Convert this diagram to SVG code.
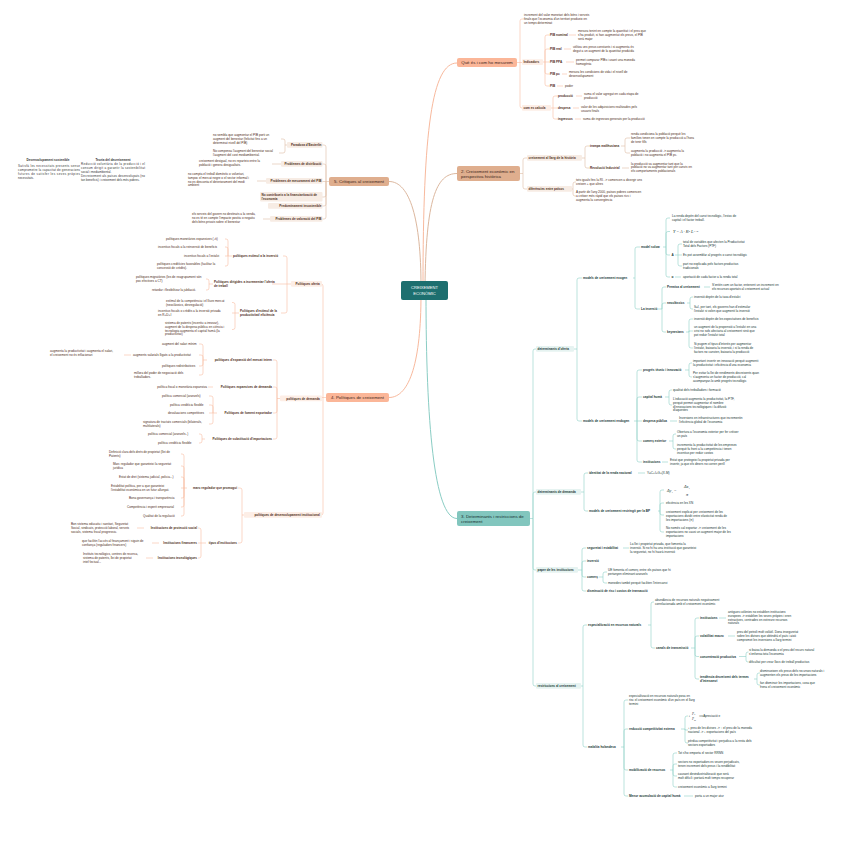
<svg xmlns="http://www.w3.org/2000/svg" width="848" height="842" viewBox="0 0 848 842">
<style>
text{font-family:"Liberation Sans",Arial,sans-serif;}
.s{font-size:3.1px;fill:#4d2c20;}
.l{font-size:3.1px;font-weight:bold;fill:#4d2c20;}
.ts{font-size:3.1px;fill:#213836;}
.tl{font-size:3.1px;font-weight:bold;fill:#213836;}
.e{text-anchor:end;}
.m{text-anchor:middle;}
.top{font-size:4.4px;fill:#3a2418;}
.cw{fill:none;stroke:#f8bda3;stroke-width:0.6;}
.ct{fill:none;stroke:#ddbca5;stroke-width:0.6;}
.cq{fill:none;stroke:#8fd0c7;stroke-width:0.6;}
.mw{fill:none;stroke:#f8b99d;stroke-width:1;}
.mt{fill:none;stroke:#dcb79e;stroke-width:1;}
.mq{fill:none;stroke:#8acdc4;stroke-width:1;}
.pw{fill:#fdeee6;}
.pt{fill:#f7ece4;}
.pq{fill:#e6f3f1;}
.math{font-family:"Liberation Serif",serif;font-style:italic;fill:#213836;}
.note{font-size:3px;fill:#333;}
.nb{font-size:3.1px;font-weight:bold;fill:#333;}
</style>
<rect width="848" height="842" fill="#ffffff"/>

<g id="connectors">
<!-- central curves -->
<path class="mw" d="M423 286 C423 130 432 63 457 63"/>
<path class="mt" d="M425 286 C426 200 436 173.5 457 173.5"/>
<path class="mq" d="M426 295 C426 420 434 518.5 457 518.5"/>
<path class="mw" d="M421 295 C421 360 410 397.5 389 397.5"/>
<path class="mt" d="M421 286 C421 220 410 181.5 389 181.5"/>

<!-- branch 1 -->
<path class="cw" d="M517 62.5 H523 M520 62.5 V21 Q520 19 522 19 H524 M520 62.5 V106 Q520 108 522 108 H523"/>
<path class="cw" d="M543 62 H550 M545 62 V37 Q545 35 547 35 H550 M545 62 V51 Q545 49 547 49 H550 M545 62 V72 Q545 74 547 74 H550 M545 62 V84 Q545 86 547 86 H550"/>
<path class="cw" d="M569 35 H576 M564 49 H571 M566 62 H574 M562 74 H567 M557 86 H563"/>
<path class="cw" d="M550 108 H553 M553 108 V98 Q553 96 555 96 H558 M553 108 H558 M553 108 V117 Q553 119 555 119 H558"/>
<path class="cw" d="M576 96 H582 M573 108 H579 M575 119 H581"/>

<!-- branch 2 -->
<path class="ct" d="M520 173.5 H523 M523 173.5 V160 Q523 158 525 158 H528 M523 173.5 V187 Q523 189 525 189 H528"/>
<path class="ct" d="M581 158 H585 M585 158 V148 Q585 146 587 146 H590 M585 158 V166 Q585 168 587 168 H590"/>
<path class="ct" d="M621 146 H625 M625 146 V140 Q625 138 627 138 H630 M625 146 V151 Q625 153 627 153 H630 M622 168 H629"/>
<path class="ct" d="M571 189 H573 M573 189 V184 Q573 182 575 182 H576 M573 189 V194 Q573 196 575 196 H576"/>

<!-- branch 5 -->
<path class="ct" d="M329 181.5 H322 M326 181.5 V147 Q326 145 324 145 H322 M326 181.5 V166 Q326 164 324 164 H322 M326 181.5 V195 Q326 197 324 197 H322 M326 181.5 V204 Q326 206 324 206 H322 M326 181.5 V217 Q326 219 324 219 H322"/>
<path class="ct" d="M287 145 H285 M285 145 V141 Q285 139 283 139 H281 M285 145 V151 Q285 153 283 153 H279"/>
<path class="ct" d="M281 164 H272 M266 181 H257 M270 219 H263"/>

<!-- branch 4 -->
<path class="cw" d="M326 397.5 H320 M323 397.5 V286 Q323 284 321 284 H320 M323 397.5 V513 Q323 515 321 515 H320"/>
<path class="cw" d="M291 284 H287 M287 284 V258 Q287 256 285 256 H283 M287 284 H272 M287 284 V311 Q287 313 285 313 H281"/>
<path class="cw" d="M232 256 H228 M228 256 V241 Q228 239 226 239 H225 M228 256 V249 Q228 247 226 247 H225 M228 256 H225 M228 256 V264 Q228 266 226 266 H225"/>
<path class="cw" d="M213 284 H209 M209 284 V281 Q209 279 207 279 H206 M209 284 V288 Q209 290 207 290 H206"/>
<path class="cw" d="M239 313 H235 M235 313 V304.5 Q235 302.5 233 302.5 H232 M235 313 H232 M235 313 V327.5 Q235 329.5 233 329.5 H232"/>
<path class="cw" d="M280 398.5 H277 M277 398.5 V362 Q277 360 275 360 H273 M277 398.5 V389 Q277 387 275 387 H273 M277 398.5 V411 Q277 413 275 413 H273 M277 398.5 V437 Q277 439 275 439 H273"/>
<path class="cw" d="M207 360 H203 M203 360 V346 Q203 344 201 344 H199 M203 360 V357 Q203 355 201 355 H199 M203 360 V364 Q203 366 201 366 H199 M203 360 V373 Q203 375 201 375 H199 M124 355 H131"/>
<path class="cw" d="M213 387 H208"/>
<path class="cw" d="M217 413 H213 M213 413 V398 Q213 396 211 396 H209 M213 413 V407 Q213 405 211 405 H209 M213 413 H209 M213 413 V422 Q213 424 211 424 H209"/>
<path class="cw" d="M205 439 H202 M202 439 V436 Q202 434 200 434 H199 M202 439 V441 Q202 443 200 443 H199"/>
<path class="cw" d="M244 515 H242 M242 515 V490 Q242 488 240 488 H238 M242 515 V541 Q242 543 240 543 H238"/>
<path class="cw" d="M187 488 H184 M184 488 V456 Q184 454 182 454 H181 M184 488 V468 Q184 466 182 466 H181 M184 488 V479 Q184 477 182 477 H181 M184 488 H181 M184 488 V496 Q184 498 182 498 H181 M184 488 V505 Q184 507 182 507 H181 M184 488 V514 Q184 516 182 516 H181"/>
<path class="cw" d="M206 543 H201 M201 543 V530 Q201 528 199 528 H198 M201 543 H198 M201 543 V556 Q201 558 199 558 H198"/>
<path class="cw" d="M137 528 H144 M152 543 H159 M146 558 H153"/>

<!-- branch 3 -->
<path class="cq" d="M530 518.5 H533 M533 518.5 V351 Q533 349 535 349 H537 M533 518.5 V494 Q533 492 535 492 H537 M533 518.5 V568 Q533 570 535 570 H537 M533 518.5 V684 Q533 686 535 686 H537"/>
<path class="cq" d="M574 349 H577 M577 349 V280 Q577 278 579 278 H582 M577 349 V419 Q577 421 579 421 H582"/>
<path class="cq" d="M633 278 H635 M635 278 V249 Q635 247 637 247 H640 M635 278 V307 Q635 309 637 309 H640"/>
<path class="cq" d="M663 247 H666 M666 247 V220 Q666 218 668 218 H670 M666 247 V233.5 Q666 231.5 668 231.5 H670 M666 247 V253 Q666 255 668 255 H670 M666 247 V275 Q666 277 668 277 H670"/>
<path class="cq" d="M675 255 H678 M678 255 V246 Q678 244 680 244 H682 M678 255 H682 M678 255 V264 Q678 266 680 266 H682 M675 277 H681"/>
<path class="cq" d="M658 309 H662 M662 309 V289 Q662 287 664 287 H666 M662 309 V305 Q662 303 664 303 H666 M662 309 V330 Q662 332 664 332 H666"/>
<path class="cq" d="M704 287 H710 M687 303 H690 M690 303 V299 Q690 297 692 297 H693 M690 303 V307 Q690 309 692 309 H693"/>
<path class="cq" d="M686 332 H689 M689 332 V321 Q689 319 691 319 H693 M689 332 V331 H693 M689 332 V346 Q689 348 691 348 H693"/>
<path class="cq" d="M634 421 H637 M637 421 V372 Q637 370 639 370 H642 M637 421 V399 Q637 397 639 397 H642 M637 421 H642 M637 421 V439 Q637 441 639 441 H642 M637 421 V460 Q637 462 639 462 H642"/>
<path class="cq" d="M685 370 H689 M689 370 V365 Q689 363 691 363 H692 M689 370 V375 Q689 377 691 377 H692"/>
<path class="cq" d="M665 397 H669 M669 397 V392 Q669 390 671 390 H672 M669 397 V403 Q669 405 671 405 H672 M670 421 H677"/>
<path class="cq" d="M669 441 H673 M673 441 V436 Q673 434 675 434 H676 M673 441 V447 Q673 449 675 449 H676 M662 462 H668"/>
<path class="cq" d="M581 492 H584 M584 492 V475 Q584 473 586 473 H588 M584 492 V509 Q584 511 586 511 H588 M638 473 H645"/>
<path class="cq" d="M658 511 H660 M660 511 V492 Q660 490 662 490 H664 M660 511 V505 Q660 503 662 503 H664 M660 511 V513 Q660 515 662 515 H664 M660 511 V530 Q660 532 662 532 H664"/>
<path class="cq" d="M578 570 H582 M582 570 V550 Q582 548 584 548 H586 M582 570 V563 Q582 561 584 561 H586 M582 570 V575 Q582 577 584 577 H586 M582 570 V589 Q582 591 584 591 H586 M623 548 H629"/>
<path class="cq" d="M599 577 H603 M603 577 V574 Q603 572 605 572 H607 M603 577 V581 Q603 583 605 583 H607"/>
<path class="cq" d="M581 686 H583 M583 686 V627 Q583 625 585 625 H587 M583 686 V745 Q583 747 585 747 H587"/>
<path class="cq" d="M648 625 H651 M651 625 V604 Q651 602 653 602 H654 M651 625 V646 Q651 648 653 648 H655"/>
<path class="cq" d="M691 648 H695 M695 648 V620 Q695 618 697 618 H699 M695 648 V638 Q695 636 697 636 H699 M695 648 V654.5 Q695 656.5 697 656.5 H699 M695 648 V677 Q695 679 697 679 H699"/>
<path class="cq" d="M719 618 H726 M728 636 H735 M739 656.5 H746 M746 656.5 V654 Q746 652 748 652 H748.5 M746 656.5 V660 Q746 662 748 662 H748.5"/>
<path class="cq" d="M754 679 H757 M757 679 V675 Q757 673 759 673 H760 M757 679 V683 Q757 685 759 685 H760"/>
<path class="cq" d="M621 747 H624 M624 747 V702 Q624 700 626 700 H628 M624 747 V731 Q624 729 626 729 H628 M624 747 V768 Q624 770 626 770 H628 M624 747 V794 Q624 796 626 796 H628"/>
<path class="cq" d="M681 729 H685 M685 729 V718 Q685 716 687 716 H688 M685 729 V730 H688 M685 729 V741 Q685 743 687 743 H688"/>
<path class="cq" d="M670 770 H673 M673 770 V755 Q673 753 675 753 H677 M673 770 V766 Q673 764 675 764 H677 M673 770 V774 Q673 776 675 776 H677 M673 770 V785 Q673 787 675 787 H677 M684 796 H693"/>
</g>

<!-- central -->
<g id="center">
<rect x="401" y="281" width="47" height="19" rx="2" fill="#1d6f6f"/>
<text x="424.5" y="289.3" class="m" font-size="4.1" fill="#fff">CREIXEMENT</text>
<text x="424.5" y="294.8" class="m" font-size="4.1" fill="#fff">ECONÒMIC</text>
</g>

<!-- Branch 1 -->
<g id="b1">
<rect x="457" y="58" width="60" height="9" rx="2" fill="#fbb698"/>
<text x="487" y="64" class="top m">Què és i com ho mesurem</text>
</g>
<g id="b1-def"><text class="s"><tspan x="524" y="16.4">increment del valor monetari dels béns i serveis</tspan><tspan x="524" y="20.4">finals que l'economia d'un territori produeix en</tspan><tspan x="524" y="24.4">un temps determinat</tspan></text></g>
<g id="b1-ind"><rect x="522" y="59.2" width="21" height="5.8" rx="1" class="pw"/><text x="523.5" y="63.2" class="l">Indicadors</text></g>
<g id="b1-nom"><text x="550" y="36.1" class="l">PIB nominal</text><text class="s"><tspan x="578" y="32.1">mesura tenint en compte la quantitat i el preu que</tspan><tspan x="578" y="36.1">s'ha produït, si han augmentat els preus, el PIB</tspan><tspan x="578" y="40.1">serà major</tspan></text></g>
<g id="b1-real"><text x="550" y="50.1" class="l">PIB real</text><text class="s"><tspan x="573" y="48.4">utilitza uns preus constants i si augmenta és</tspan><tspan x="573" y="52.4">degut a un augment de la quantitat produïda</tspan></text></g>
<g id="b1-ppa"><text x="550" y="63.1" class="l">PIB PPA</text><text class="s"><tspan x="576" y="61.1">permet comparar PIBs i usant una moneda</tspan><tspan x="576" y="65.1">homogènia</tspan></text></g>
<g id="b1-pc"><text x="550" y="75.1" class="l">PIB pc</text><text class="s"><tspan x="569" y="73.1">mesura les condicions de vida i el nivell de</tspan><tspan x="569" y="77.1">desenvolupament</tspan></text></g>
<g id="b1-pib"><text x="550" y="87.1" class="l">PIB</text><text x="565" y="87.1" class="s">poder</text></g>
<g id="b1-calc"><rect x="522" y="105" width="29" height="5.8" rx="1" class="pw"/><text x="523.5" y="109.1" class="l">com es calcula</text></g>
<g id="b1-prod"><text x="558" y="97.1" class="l">producció</text><text class="s"><tspan x="584" y="95.1">suma el valor agregat en cada etapa de</tspan><tspan x="584" y="99.1">producció</tspan></text></g>
<g id="b1-desp"><text x="558" y="109.1" class="l">despesa</text><text class="s"><tspan x="581" y="108.4">valor de les adquisicions realitzades pels</tspan><tspan x="581" y="112.4">usuaris finals</tspan></text></g>
<g id="b1-ingr"><text x="558" y="120.1" class="l">ingressos</text><text x="583" y="120.1" class="s">suma de ingressos generats per la producció</text></g>

<!-- Branch 2 -->
<g id="b2">
<rect x="457" y="166" width="63" height="15" rx="2" fill="#dfae8e"/>
<text class="top"><tspan x="461" y="172.6">2. Creixement econòmic en</tspan><tspan x="461" y="178.4">perspectiva històrica</tspan></text>
</g>
<g id="b2-llarg"><rect x="527" y="155" width="55" height="5.8" rx="1" class="pt"/><text x="528.5" y="159.1" class="l">creixement al llarg de la història</text></g>
<g id="b2-malt"><text x="590" y="147.1" class="l">trampa malthusiana</text><text class="s"><tspan x="631" y="135.3">renda condiciona la població perquè les</tspan><tspan x="631" y="139">famílies tenen en compte la producció a l'hora</tspan><tspan x="631" y="142.7">de tenir fills</tspan><tspan x="631" y="152.2">augmenta la producció -&gt; augmenta la</tspan><tspan x="631" y="155.9">població i no augmenta el PIB pc.</tspan></text></g>
<g id="b2-ri"><text x="590" y="169.1" class="l">Revolució Industrial</text><text class="s"><tspan x="631" y="164.5">la producció va augmentar tant que la</tspan><tspan x="631" y="168.2">població no va augmentar tant per canvis en</tspan><tspan x="631" y="171.9">els comportaments poblacionals</tspan></text></g>
<g id="b2-dif"><rect x="527" y="186" width="45" height="5.8" rx="1" class="pt"/><text x="528.5" y="190.1" class="l">diferències entre països</text><text class="s"><tspan x="576" y="181.3">tots iguals fins la RI. -&gt; comencen a divergir uns</tspan><tspan x="576" y="185">creixen + que altres</tspan><tspan x="576" y="193.2">A partir de l'any 2000, països pobres comencen</tspan><tspan x="576" y="196.9">a créixer més ràpid que els països rics i</tspan><tspan x="576" y="200.6">augmenta la convergència</tspan></text></g>

<!-- Branch 5 -->
<g id="b5">
<rect x="329" y="177" width="60" height="9" rx="2" fill="#dfae8e"/>
<text x="359" y="182.9" class="top m">5. Crítiques al creixement</text>
</g>
<g id="b5-east"><rect x="287" y="142" width="35.5" height="5.8" rx="1" class="pt"/><text x="321.5" y="146.1" class="l e">Paradoxa d'Easterlin</text><text class="s"><tspan x="213" y="136.2">no sembla que augmentar el PIB porti un</tspan><tspan x="213" y="139.9">augment del benestar (felicitat fins a un</tspan><tspan x="213" y="143.6">determinat nivell del PIB)</tspan><tspan x="213" y="152">No compensa l'augment del benestar social</tspan><tspan x="213" y="155.7">l'augment del cost mediambiental.</tspan></text></g>
<g id="b5-dist"><rect x="281" y="161" width="41.5" height="5.8" rx="1" class="pt"/><text x="321.5" y="165.1" class="l e">Problemes de distribució</text><text class="s"><tspan x="199" y="162.2">creixement desigual, no es reparteix entre la</tspan><tspan x="199" y="165.9">població i genera desigualtats.</tspan></text></g>
<g id="b5-mes"><rect x="266" y="178" width="56.5" height="5.8" rx="1" class="pt"/><text x="321.5" y="182.1" class="l e">Problemes de mesurament del PIB</text><text class="s"><tspan x="188" y="175.1">no compta el treball domèstic o voluntari,</tspan><tspan x="188" y="178.8">tampoc el mercat negre o el sector informal i</tspan><tspan x="188" y="182.5">no es desconta el deteriorament del medi</tspan><tspan x="188" y="186.2">ambient</tspan></text></g>
<g id="b5-fin"><rect x="260" y="192" width="62.5" height="9.5" rx="1" class="pt"/><text class="l"><tspan x="261.5" y="196.1">No contribueix a la financiarització de</tspan><tspan x="261.5" y="200">l'economia</tspan></text></g>
<g id="b5-pred"><rect x="268" y="203" width="54.5" height="5.8" rx="1" class="pt"/><text x="321.5" y="207.1" class="l e">Predominament insostenible</text></g>
<g id="b5-val"><rect x="270" y="216" width="52.5" height="5.8" rx="1" class="pt"/><text x="321.5" y="220.1" class="l e">Problemes de valoració del PIB</text><text class="s"><tspan x="192" y="215.2">els serveis del govern no destinats a la venda,</tspan><tspan x="192" y="218.9">no es té en compte l'impacte positiu o negatiu</tspan><tspan x="192" y="222.6">dels béns privats sobre el benestar</tspan></text></g>

<!-- notes -->
<g id="note-sost">
<text x="48" y="161" class="nb m">Desenvolupament sostenible</text>
<text class="note"><tspan x="18" y="167" textLength="62" lengthAdjust="spacing">Satisfà les necessitats presents sense</tspan><tspan x="18" y="171" textLength="62" lengthAdjust="spacing">comprometre la capacitat de generacions</tspan><tspan x="18" y="175" textLength="62" lengthAdjust="spacing">futures de satisfer les seves pròpies</tspan><tspan x="18" y="179">necessitats.</tspan></text>
</g>
<g id="note-decr">
<text x="113" y="161" class="nb m">Teoria del decreixement</text>
<text class="note"><tspan x="81" y="164.5" textLength="64" lengthAdjust="spacing">Reducció voluntària de la producció i el</tspan><tspan x="81" y="168.5" textLength="64" lengthAdjust="spacing">consum dirigit a garantir la sostenibilitat</tspan><tspan x="81" y="172.5">social i mediambiental.</tspan><tspan x="81" y="176.5" textLength="64" lengthAdjust="spacing">Decreixement als països desenvolupats (no</tspan><tspan x="81" y="180.5">tan beneficis) i creixement dels més pobres.</tspan></text>
</g>

<!-- Branch 4 -->
<g id="b4">
<rect x="326" y="393" width="63" height="9" rx="2" fill="#fbb698"/>
<text x="357.5" y="398.9" class="top m">4. Polítiques de creixement</text>
</g>
<g id="b4-of"><rect x="291" y="281" width="31" height="5.8" rx="1" class="pw"/><text x="319.8" y="285.1" class="l e">Polítiques oferta</text></g>
<g id="b4-inv"><text x="233" y="257.1" class="l">polítiques estímul a la inversió</text>
<text class="s"><tspan x="166" y="240.1">polítiques monetàries expansives (↓ti)</tspan><tspan x="158" y="248.1">incentius fiscals a la reinversió de beneficis</tspan><tspan x="184" y="257.1">incentius fiscals a l'estalvi</tspan><tspan x="157" y="265.1">polítiques creditícies favorables (facilitar la</tspan><tspan x="157" y="268.8">concessió de crèdits).</tspan></text></g>
<g id="b4-treb"><text class="l"><tspan x="214" y="283.1">Polítiques dirigides a incrementar l'oferta</tspan><tspan x="214" y="287">de treball</tspan></text>
<text class="s"><tspan x="136" y="278.1">polítiques migratòries (les de reagrupament són</tspan><tspan x="136" y="281.8">poc efectives a CT)</tspan><tspan x="152" y="291.1">retardar i flexibilitzar la jubilació.</tspan></text></g>
<g id="b4-prod"><text class="l"><tspan x="240" y="312.1">Polítiques d'estímul de la</tspan><tspan x="240" y="316">productivitat/ eficiència</tspan></text>
<text class="s"><tspan x="166" y="302.1">estímul de la competència i el lliure mercat</tspan><tspan x="166" y="305.8">(neoclàssics, desregulació)</tspan><tspan x="158" y="312.1">incentius fiscals o crèdits a la inversió privada</tspan><tspan x="158" y="315.8">en R+D+I</tspan><tspan x="165" y="324.1">sistema de patents (incentiu a innovar),</tspan><tspan x="165" y="327.8">augment de la despesa pública en ciència i</tspan><tspan x="165" y="331.5">tecnologia augmenta el capital humà (la</tspan><tspan x="165" y="335.2">productivitat)</tspan></text></g>
<g id="b4-dem"><rect x="280" y="395.5" width="42" height="5.8" rx="1" class="pw"/><text x="319.8" y="399.6" class="l e">polítiques de demanda</text></g>
<g id="b4-merc"><text x="272" y="361.1" class="l e">polítiques d'expansió del mercat intern</text>
<text class="s"><tspan x="162" y="345.1">augment del salari mínim</tspan><tspan x="133" y="356.1">augments salarials lligats a la productivitat</tspan><tspan x="162" y="367.1">polítiques redistributives</tspan><tspan x="134" y="374.1">millora del poder de negociació dels</tspan><tspan x="134" y="377.8">treballadors.</tspan></text>
<text class="s"><tspan x="50" y="352.2">augmenta la productivitat i augmenta el salari,</tspan><tspan x="50" y="355.9">el creixement no és inflacionari</tspan></text></g>
<g id="b4-exp"><text x="272" y="388.1" class="l e">Polítiques expansives de demanda</text><text x="207" y="388.1" class="s e">política fiscal o monetària expansiva</text></g>
<g id="b4-fom"><text x="272" y="414.1" class="l e">Polítiques de foment exportador</text>
<text class="s"><tspan x="162" y="397.1">política comercial (aranzels)</tspan><tspan x="170" y="406.1">política creditícia flexible</tspan><tspan x="168" y="414.1">devaluacions competitives</tspan><tspan x="143" y="423.1">signatura de tractats comercials (bilaterals,</tspan><tspan x="143" y="426.8">multilaterals)</tspan></text></g>
<g id="b4-subs"><text x="272" y="440.1" class="l e">Polítiques de substitució d'importacions</text>
<text class="s"><tspan x="148" y="435.1">política comercial (aranzels..)</tspan><tspan x="158" y="444.1">política creditícia flexible</tspan></text></g>
<g id="b4-inst"><rect x="244" y="512" width="78" height="5.8" rx="1" class="pw"/><text x="319.8" y="516.1" class="l e">polítiques de desenvolupament institucional</text></g>
<g id="b4-marc"><text x="237" y="489.1" class="l e">marc regulador que promogui</text>
<text class="s"><tspan x="109" y="453.1">Definició clara dels drets de propietat (llei de</tspan><tspan x="109" y="456.8">Patents)</tspan><tspan x="113" y="465.1">Marc regulador que garanteixi la seguretat</tspan><tspan x="113" y="468.8">jurídica</tspan><tspan x="119" y="478.1">Estat de dret (sistema judicial, policia...)</tspan><tspan x="111" y="487.1">Estabilitat política, per a que garanteixi</tspan><tspan x="111" y="490.8">l'estabilitat econòmica en un futur allunyat.</tspan><tspan x="129" y="499.1">Bona governança i transparència</tspan><tspan x="127" y="508.1">Competència i esperit empresarial</tspan><tspan x="143" y="517.1">Qualitat de la regulació</tspan></text></g>
<g id="b4-tipus"><text x="237" y="544.1" class="l e">tipus d'institucions</text></g>
<g id="b4-soc"><text x="197" y="529.1" class="l e">Institucions de protecció social</text>
<text class="s"><tspan x="71" y="525.2">Bon sistema educatiu i sanitari, Seguretat</tspan><tspan x="71" y="528.9">Social, sindicats, protecció laboral, serveis</tspan><tspan x="71" y="532.6">socials, sistema fiscal progressiu.</tspan></text></g>
<g id="b4-finan"><text x="197" y="544.1" class="l e">Institucions financeres</text>
<text class="s"><tspan x="82" y="542.2">que facilitin l'accés al finançament i siguin de</tspan><tspan x="82" y="545.9">confiança (reguladors financers)</tspan></text></g>
<g id="b4-tec"><text x="197" y="559.1" class="l e">Institucions tecnològiques</text>
<text class="s"><tspan x="83" y="555.2">Instituts tecnològics, centres de recerca,</tspan><tspan x="83" y="558.9">sistema de patents, llei de propietat</tspan><tspan x="83" y="562.6">intel·lectual...</tspan></text></g>

<!-- Branch 3 -->
<g id="b3">
<rect x="457" y="511" width="73" height="15" rx="2" fill="#82c6be"/>
<text class="top" style="fill:#16302e"><tspan x="461" y="517.6">3. Determinants i restriccions de</tspan><tspan x="461" y="523.4">creixement</tspan></text>
</g>
<g id="b3-of"><rect x="536" y="346" width="38" height="5.8" rx="1" class="pq"/><text x="537.5" y="350.1" class="tl">determinants d'oferta</text></g>
<g id="b3-exo"><text x="583" y="279.1" class="tl">models de creixement exogen</text></g>
<g id="b3-solow"><text x="641" y="248.1" class="tl">model solow</text>
<text class="ts"><tspan x="672" y="217.2">La renda depèn del canvi tecnològic, l'estoc de</tspan><tspan x="672" y="220.9">capital i el factor treball.</tspan></text>
<text x="673" y="233.2" class="math" font-size="4.3">Y <tspan font-style="normal">=</tspan> A · K<tspan font-size="2.8" dy="-1.6">α</tspan><tspan dy="1.6"> L</tspan><tspan font-size="2.8" dy="-1.6">1−α</tspan></text>
<text x="671.5" y="256.1" class="tl">A</text>
<text class="ts"><tspan x="683" y="243.1">total de variables que afecten la Productivitat</tspan><tspan x="683" y="246.8">Total dels Factors (PTF)</tspan><tspan x="683" y="256.1">Es pot assemblar al progrés o canvi tecnològic</tspan><tspan x="683" y="265.1">part no explicada pels factors productius</tspan><tspan x="683" y="268.8">tradicionals</tspan></text>
<text x="671.5" y="278.1" class="tl">α</text>
<text x="683" y="278.1" class="ts">aportació de cada factor a la renda total</text></g>
<g id="b3-inv"><text x="641" y="310.1" class="tl">La inversió</text>
<text x="667" y="288.1" class="tl">Premisa al creixement</text>
<text class="ts"><tspan x="712" y="286.2">S'entén com un factor, entenent un increment en</tspan><tspan x="712" y="289.9">els recursos aportats al creixement actual</tspan></text>
<text x="667" y="304.1" class="tl">neoclàssics</text>
<text class="ts"><tspan x="694" y="298.1">inversió depèn de la taxa d'estalvi</tspan><tspan x="694" y="308.1">S=I, per tant, els governs han d'estimular</tspan><tspan x="694" y="311.8">l'estalvi si volen que augmenti la inversió</tspan></text>
<text x="667" y="333.1" class="tl">keynesians</text>
<text class="ts"><tspan x="694" y="320.1">inversió depèn de les expectatives de beneficis</tspan><tspan x="694" y="328.2">un augment de la propensió a l'estalvi en una</tspan><tspan x="694" y="331.9">crisi no sols afectaria al creixement sinó que</tspan><tspan x="694" y="335.6">pot reduir l'estalvi total</tspan><tspan x="694" y="345.2">Si pugem el tipus d'interès per augmentar</tspan><tspan x="694" y="348.9">l'estalvi, baixaria la inversió, i si la renda de</tspan><tspan x="694" y="352.6">factors no canvien, baixaria la producció</tspan></text></g>
<g id="b3-endo"><text x="583" y="422.1" class="tl">models de creixement endogen</text>
<text x="643" y="371.1" class="tl">progrés tècnic i innovació</text>
<text class="ts"><tspan x="693" y="362.2">important invertir en innovació perquè augmenti</tspan><tspan x="693" y="365.9">la productivitat i eficiència d'una economia</tspan><tspan x="693" y="374.2">Per evitar la llei de rendiments decreixents quan</tspan><tspan x="693" y="377.9">s'augmenta un factor de producció, cal</tspan><tspan x="693" y="381.6">acompanyar-lo amb progrés tecnològic</tspan></text>
<text x="643" y="398.1" class="tl">capital humà</text>
<text class="ts"><tspan x="673" y="391.1">qualitat dels treballadors i formació</tspan><tspan x="673" y="400.1">L'educació augmenta la productivitat, la PTF,</tspan><tspan x="673" y="403.8">perquè permet augmentar el nombre</tspan><tspan x="673" y="407.5">d'innovacions tecnològiques i la difusió</tspan><tspan x="673" y="411.2">d'aquestes</tspan></text>
<text x="643" y="422.1" class="tl">despesa pública</text>
<text class="ts"><tspan x="679" y="419.2">Inversions en infraestructures que incrementin</tspan><tspan x="679" y="422.9">l'eficiència global de l'economia</tspan></text>
<text x="643" y="442.1" class="tl">comerç exterior</text>
<text class="ts"><tspan x="677" y="433.2">Obertura a l'economia exterior per fer créixer</tspan><tspan x="677" y="436.9">un país</tspan><tspan x="677" y="446.2">incrementa la productivitat de les empreses</tspan><tspan x="677" y="449.9">perquè fa front a la competència i tenen</tspan><tspan x="677" y="453.6">incentius per reduir costos</tspan></text>
<text x="643" y="463.1" class="tl">institucions</text>
<text class="ts"><tspan x="670" y="461.2">Estat que protegeixi la propietat privada per</tspan><tspan x="670" y="464.9">invertir, ja que els diners no corren perill</tspan></text></g>
<g id="b3-dem"><rect x="536" y="489" width="45" height="5.8" rx="1" class="pq"/><text x="537.5" y="493.1" class="tl">determinants de demanda</text>
<text x="589" y="474.1" class="tl">identitat de la renda nacional</text>
<text x="647" y="474.1" class="ts">Y=C+I+G+(X-M)</text>
<text x="589" y="512.1" class="tl">models de creixement restringit per la BP</text>
<text x="667" y="492" class="math" font-size="4.3">Δy<tspan font-size="2.8" dy="0.9">1</tspan><tspan font-style="normal" dy="-0.9"> =</tspan></text>
<text x="684" y="488.2" class="math" font-size="4.3">Δx<tspan font-size="2.8" dy="0.9">1</tspan></text>
<text x="686" y="495.6" class="math" font-size="4.3">π</text>
<text x="666" y="504.1" class="ts">eficiència en les XN</text>
<text class="ts"><tspan x="666" y="513.1">creixement explicat per creixement de les</tspan><tspan x="666" y="516.8">exportacions dividit entre elasticitat renda de</tspan><tspan x="666" y="520.5">les importacions (π)</tspan><tspan x="666" y="529.2">No només cal exportar -&gt; creixement de les</tspan><tspan x="666" y="532.9">exportacions no causi un augment major de les</tspan><tspan x="666" y="536.6">importacions</tspan></text></g>
<g id="b3-inst"><rect x="536" y="567" width="42" height="5.8" rx="1" class="pq"/><text x="537.5" y="571.1" class="tl">paper de les institucions</text>
<text x="587" y="549.1" class="tl">seguretat i estabilitat</text>
<text class="ts"><tspan x="630" y="545.3">La llei i propietat privada, que fomenta la</tspan><tspan x="630" y="549">inversió. Si no hi ha una institució que garanteixi</tspan><tspan x="630" y="552.7">la seguretat, no hi haurà inversió</tspan></text>
<text x="587" y="562.1" class="tl">inversió</text>
<text x="587" y="578.1" class="tl">comerç</text>
<text class="ts"><tspan x="608" y="571.1">UE fomenta el comerç entre els països que hi</tspan><tspan x="608" y="574.8">pertanyen eliminant aranzels</tspan><tspan x="608" y="584.1">monedes també perquè faciliten l'intercanvi</tspan></text>
<text x="587" y="592.1" class="tl">disminució de risc i costos de transacció</text></g>
<g id="b3-restr"><rect x="536" y="683" width="45" height="5.8" rx="1" class="pq"/><text x="537.5" y="687.1" class="tl">restriccions al creixement</text>
<text x="588" y="626.1" class="tl">especialització en recursos naturals</text>
<text class="ts"><tspan x="655" y="601.1">abundància de recursos naturals negativament</tspan><tspan x="655" y="604.8">correlacionada amb el creixement econòmic</tspan></text>
<text x="656" y="649.1" class="tl">canals de transmissió</text>
<text x="700" y="619.1" class="tl">institucions</text>
<text class="ts"><tspan x="728" y="613.1">antigues colònies no establien institucions</tspan><tspan x="728" y="616.8">europees -&gt; establien les seves pròpies i eren</tspan><tspan x="728" y="620.5">extractives, centrades en extreure recursos</tspan><tspan x="728" y="624.2">naturals</tspan></text>
<text x="700" y="637.1" class="tl">volatilitat macro</text>
<text class="ts"><tspan x="737" y="633.2">preu del petroli molt volàtil. Dona inseguretat</tspan><tspan x="737" y="636.9">sobre les divises que obtindrà el país i això</tspan><tspan x="737" y="640.6">compromet les inversions a llarg termini</tspan></text>
<text x="700" y="657.6" class="tl">concentració productiva</text>
<text class="ts"><tspan x="749" y="651.1">si baixa la demanda o el preu del recurs natural</tspan><tspan x="749" y="654.8">s'enfonsa tota l'economia</tspan><tspan x="749" y="663.1">dificultat per crear llocs de treball productius</tspan></text>
<text class="tl"><tspan x="700" y="678.1">tendència decreixent dels termes</tspan><tspan x="700" y="682">d'intercanvi</tspan></text>
<text class="ts"><tspan x="760" y="672.1">disminueixen els preus dels recursos naturals i</tspan><tspan x="760" y="675.8">augmenten els preus de les importacions</tspan><tspan x="760" y="684.1">fan disminuir les importacions, cosa que</tspan><tspan x="760" y="687.8">frena el creixement econòmic</tspan></text>
<text x="588" y="748.1" class="tl">malaltia holandesa</text>
<text class="ts"><tspan x="629" y="697.1">especialització en recursos naturals posa en</tspan><tspan x="629" y="700.8">risc el creixement econòmic d'un país en el llarg</tspan><tspan x="629" y="704.5">termini</tspan></text>
<text x="629" y="730.1" class="tl">reducció competitivitat externa</text>
<text x="688.5" y="717.3" class="math" font-size="3.6"><tspan font-style="normal">↓</tspan></text>
<text x="692" y="714.6" class="math" font-size="3.3">P<tspan font-size="2.2" dy="0.6">X</tspan></text>
<text x="692" y="719.9" class="math" font-size="3.3">P<tspan font-size="2.2" dy="0.6">M</tspan></text>
<text x="698.5" y="717.3" class="ts">⟹ Apreciació e</text>
<text class="ts"><tspan x="688" y="729.1">↓ preu de les divises -&gt; ↑ el preu de la moneda</tspan><tspan x="688" y="732.8">nacional -&gt; ↓ exportacions del país</tspan><tspan x="688" y="742.1">pèrdua competitivitat i perjudica a la resta dels</tspan><tspan x="688" y="745.8">sectors exportadors</tspan></text>
<text x="629" y="771.1" class="tl">mobilització de recursos</text>
<text class="ts"><tspan x="678" y="754.1">Tot s'ho emporta el sector RRNN</tspan><tspan x="678" y="763.1">sectors no exportadors es veuen perjudicats,</tspan><tspan x="678" y="766.8">tenen increment dels preus i la rendibilitat</tspan><tspan x="678" y="775.1">causant desindustrialització que serà</tspan><tspan x="678" y="778.8">molt difícil i portarà molt temps recuperar</tspan><tspan x="678" y="788.1">creixement econòmic a llarg termini</tspan></text>
<text x="629" y="797.1" class="tl">Menor acumulació de capital humà</text>
<text x="695" y="797.1" class="ts">porta a un major atur</text></g>
</svg>
